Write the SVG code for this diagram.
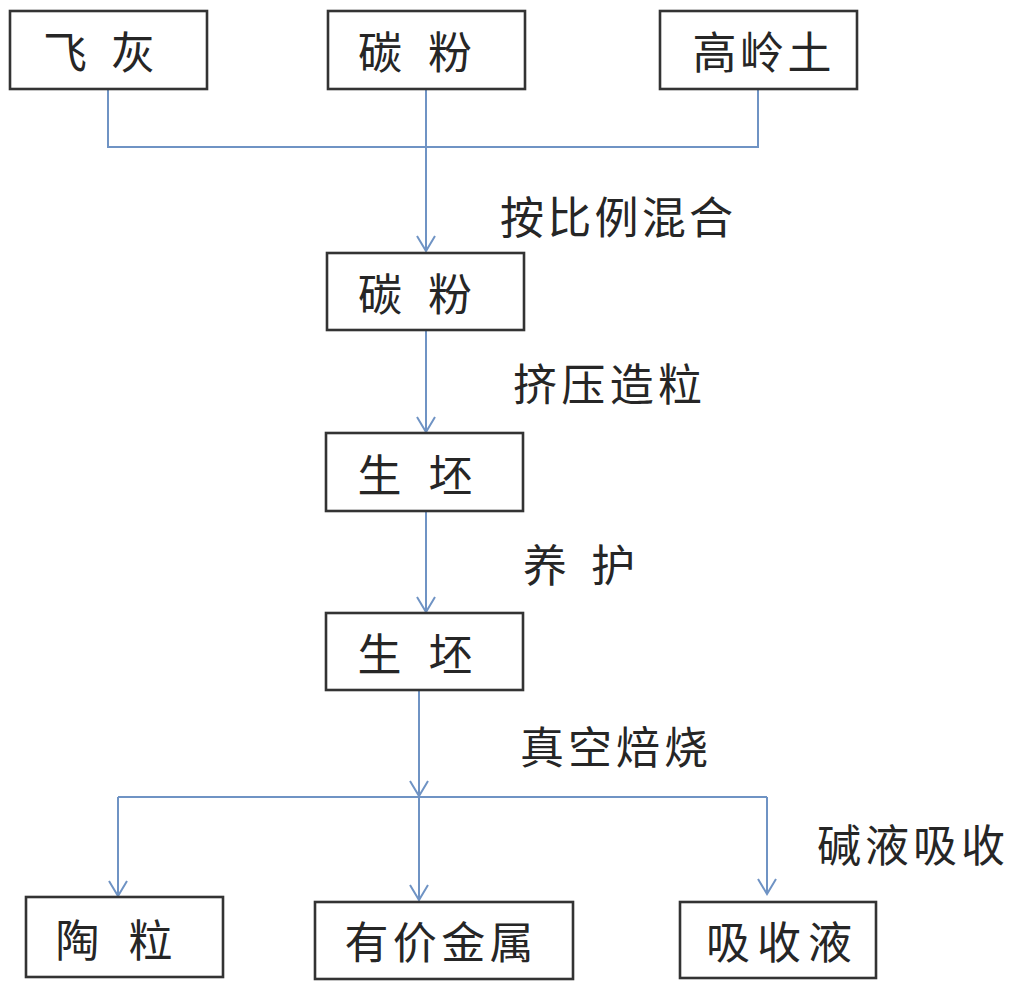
<svg xmlns="http://www.w3.org/2000/svg" width="1015" height="990" viewBox="0 0 1015 990">
<style>
.box{fill:#fff;stroke:#333;stroke-width:2.6}
.t{font-family:"Noto Sans CJK SC","Liberation Sans",sans-serif;font-size:44px;fill:#262626;dominant-baseline:central}
.c{text-anchor:middle}
.ln{fill:none;stroke:#6f93c4;stroke-width:2}
</style>
<defs>
<marker id="arr" markerUnits="userSpaceOnUse" orient="auto" viewBox="-16 -10 18 20" refX="0" refY="0" markerWidth="18" markerHeight="20">
<path d="M-15,-9 L0,0 L-15,9" fill="none" stroke="#6f93c4" stroke-width="2"/>
</marker>
</defs>
<rect width="1015" height="990" fill="#fff"/>
<g id="connectors">
<path class="ln" d="M108 89 V147 H758 V89"/>
<line class="ln" x1="426" y1="89" x2="426" y2="251" marker-end="url(#arr)"/>
<line class="ln" x1="426" y1="330" x2="426" y2="432" marker-end="url(#arr)"/>
<line class="ln" x1="426" y1="511" x2="426" y2="612" marker-end="url(#arr)"/>
<line class="ln" x1="419" y1="690" x2="419" y2="796" marker-end="url(#arr)"/>
<path class="ln" d="M118 797 H767"/>
<line class="ln" x1="118" y1="797" x2="118" y2="896" marker-end="url(#arr)"/>
<line class="ln" x1="419" y1="797" x2="419" y2="900" marker-end="url(#arr)"/>
<line class="ln" x1="767" y1="797" x2="767" y2="894" marker-end="url(#arr)"/>
</g>
<g id="labels">
<text class="t" x="500" y="215" textLength="233" lengthAdjust="spacing">按比例混合</text>
<text class="t" x="513" y="382" textLength="189" lengthAdjust="spacing">挤压造粒</text>
<text class="t" x="523" y="563" textLength="112" lengthAdjust="spacing" xml:space="preserve">养 护</text>
<text class="t" x="520" y="745" textLength="188" lengthAdjust="spacing">真空焙烧</text>
<text class="t" x="817" y="843" textLength="188" lengthAdjust="spacing">碱液吸收</text>
</g>
<g id="n1"><rect class="box" x="10" y="11" width="197" height="78"/><text class="t c" x="99" y="50" textLength="112" lengthAdjust="spacing" xml:space="preserve">飞 灰</text></g>
<g id="n2"><rect class="box" x="328" y="11" width="197" height="78"/><text class="t c" x="415" y="50" textLength="114" lengthAdjust="spacing" xml:space="preserve">碳 粉</text></g>
<g id="n3"><rect class="box" x="660" y="11" width="197" height="78"/><text class="t c" x="762" y="50" textLength="139" lengthAdjust="spacing">高岭土</text></g>
<g id="n4"><rect class="box" x="327" y="253" width="197" height="77"/><text class="t c" x="415" y="292" textLength="114" lengthAdjust="spacing" xml:space="preserve">碳 粉</text></g>
<g id="n5"><rect class="box" x="326" y="433" width="197" height="78"/><text class="t c" x="415" y="473" textLength="115" lengthAdjust="spacing" xml:space="preserve">生 坯</text></g>
<g id="n6"><rect class="box" x="326" y="613" width="197" height="77"/><text class="t c" x="415" y="652" textLength="115" lengthAdjust="spacing" xml:space="preserve">生 坯</text></g>
<g id="n7"><rect class="box" x="26" y="897" width="197" height="80"/><text class="t c" x="114" y="938" textLength="117" lengthAdjust="spacing" xml:space="preserve">陶 粒</text></g>
<g id="n8"><rect class="box" x="315" y="902" width="258" height="77"/><text class="t c" x="439" y="940" textLength="189" lengthAdjust="spacing">有价金属</text></g>
<g id="n9"><rect class="box" x="680" y="902" width="196" height="76"/><text class="t c" x="779" y="940" textLength="146" lengthAdjust="spacing">吸收液</text></g>
</svg>
